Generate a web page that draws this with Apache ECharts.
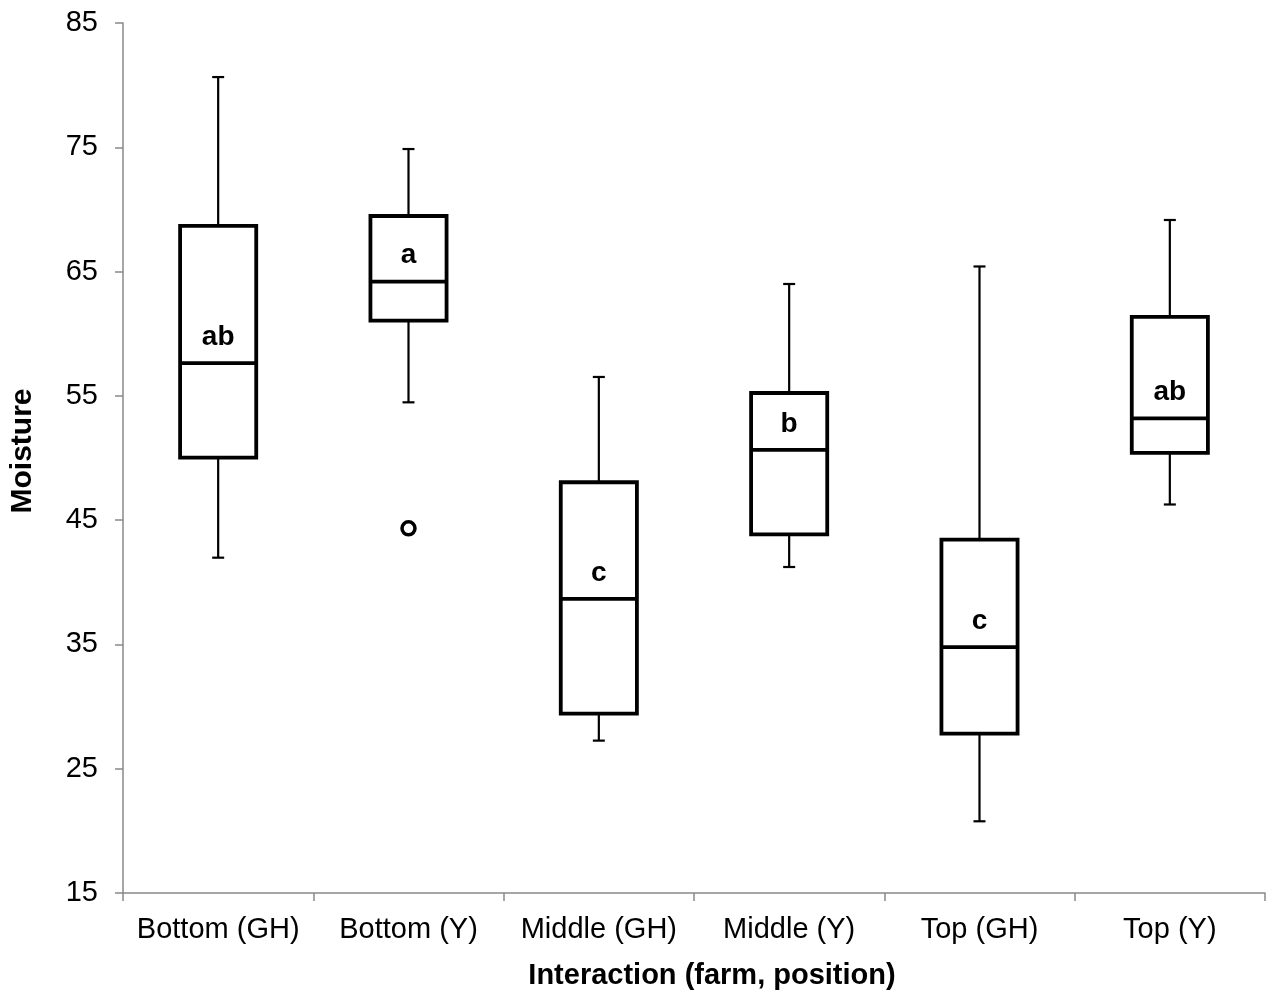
<!DOCTYPE html>
<html>
<head>
<meta charset="utf-8">
<script src="https://cdn.jsdelivr.net/npm/echarts@6/dist/echarts.min.js"></script>
<style>
html,body{margin:0;padding:0;background:#fff;}
#chart{width:1268px;height:996px;}
</style>
</head>
<body>
<div id="chart"></div>
<script>
// ---- data ----
const categories = ['Bottom (GH)', 'Bottom (Y)', 'Middle (GH)', 'Middle (Y)', 'Top (GH)', 'Top (Y)'];
const whiskerLow  = [41.98, 54.48, 27.26, 41.23, 20.77, 46.26];
const q1          = [50.03, 61.05, 29.43, 43.86, 27.82, 50.42];
const median      = [57.64, 64.19, 38.66, 50.65, 34.78, 53.19];
const q3          = [68.67, 69.47, 48.05, 55.23, 43.43, 61.35];
const whiskerHigh = [80.65, 74.86, 56.52, 64.00, 65.41, 69.15];
const letters     = ['ab', 'a', 'c', 'b', 'c', 'ab'];
const outliers    = [[1, 44.34]];
const yMin = 15, yMax = 85, yStep = 10;
const xTitle = 'Interaction (farm, position)';
const yTitle = 'Moisture';

const FONT = '"Liberation Sans", Arial, Helvetica, sans-serif';
const AXIS_COLOR = '#898989';

const boxData = categories.map((c, i) => [i, whiskerLow[i], q1[i], median[i], q3[i], whiskerHigh[i]]);

const chart = echarts.init(document.getElementById('chart'), null, {renderer: 'canvas'});

chart.setOption({
  animation: false,
  backgroundColor: '#fff',
  grid: {left: 123, right: 3, top: 23, bottom: 103, containLabel: false},
  xAxis: {
    type: 'category',
    data: categories,
    boundaryGap: true,
    axisLine: {show: true, lineStyle: {color: AXIS_COLOR, width: 1.5}},
    axisTick: {show: true, length: 8, lineStyle: {color: AXIS_COLOR, width: 1.5}},
    axisLabel: {color: '#000', fontSize: 29, fontFamily: FONT, margin: 22, interval: 0},
    splitLine: {show: false},
    name: xTitle,
    nameLocation: 'middle',
    nameGap: 68,
    nameTextStyle: {color: '#000', fontSize: 29, fontWeight: 'bold', fontFamily: FONT, padding: [0, 0, 0, 36]}
  },
  yAxis: {
    type: 'value',
    min: yMin,
    max: yMax,
    interval: yStep,
    axisLine: {show: true, lineStyle: {color: AXIS_COLOR, width: 1.5}},
    axisTick: {show: true, length: 8, lineStyle: {color: AXIS_COLOR, width: 1.5}},
    axisLabel: {color: '#000', fontSize: 29, fontFamily: FONT, margin: 25},
    splitLine: {show: false},
    name: yTitle,
    nameLocation: 'middle',
    nameRotate: 90,
    nameGap: 85,
    nameTextStyle: {color: '#000', fontSize: 30, fontWeight: 'bold', fontFamily: FONT, padding: [0, 0, 0, 14]}
  },
  series: [
    {
      type: 'custom',
      data: boxData,
      encode: {x: 0, y: [1, 2, 3, 4, 5]},
      renderItem: function (params, api) {
        const i = api.value(0);
        const lo = api.coord([i, api.value(1)]);
        const b1 = api.coord([i, api.value(2)]);
        const md = api.coord([i, api.value(3)]);
        const b3 = api.coord([i, api.value(4)]);
        const hi = api.coord([i, api.value(5)]);
        const band = api.size([1, 0])[0];
        const w = band * 0.4;
        const x = md[0];
        const cap = 6;
        const thin = {stroke: '#000', lineWidth: 2.2};
        const thick = {stroke: '#000', lineWidth: 3.8};
        return {
          type: 'group',
          children: [
            {type: 'line', shape: {x1: x, y1: hi[1], x2: x, y2: b3[1]}, style: thin},
            {type: 'line', shape: {x1: x - cap, y1: hi[1], x2: x + cap, y2: hi[1]}, style: thin},
            {type: 'line', shape: {x1: x, y1: b1[1], x2: x, y2: lo[1]}, style: thin},
            {type: 'line', shape: {x1: x - cap, y1: lo[1], x2: x + cap, y2: lo[1]}, style: thin},
            {type: 'rect', shape: {x: x - w / 2, y: b3[1], width: w, height: b1[1] - b3[1]},
             style: {fill: '#fff', stroke: '#000', lineWidth: 3.8, lineJoin: 'miter'}},
            {type: 'line', shape: {x1: x - w / 2, y1: md[1], x2: x + w / 2, y2: md[1]}, style: thick},
            {type: 'text', style: {text: letters[i], x: x, y: md[1] - 26, align: 'center', verticalAlign: 'middle',
              font: 'bold 28px ' + FONT, fill: '#000'}}
          ]
        };
      },
      z: 2
    },
    {
      type: 'scatter',
      data: outliers,
      symbol: 'circle',
      symbolSize: 13,
      itemStyle: {color: '#fff', borderColor: '#000', borderWidth: 3.5, opacity: 1},
      z: 3
    }
  ]
});
</script>
</body>
</html>
